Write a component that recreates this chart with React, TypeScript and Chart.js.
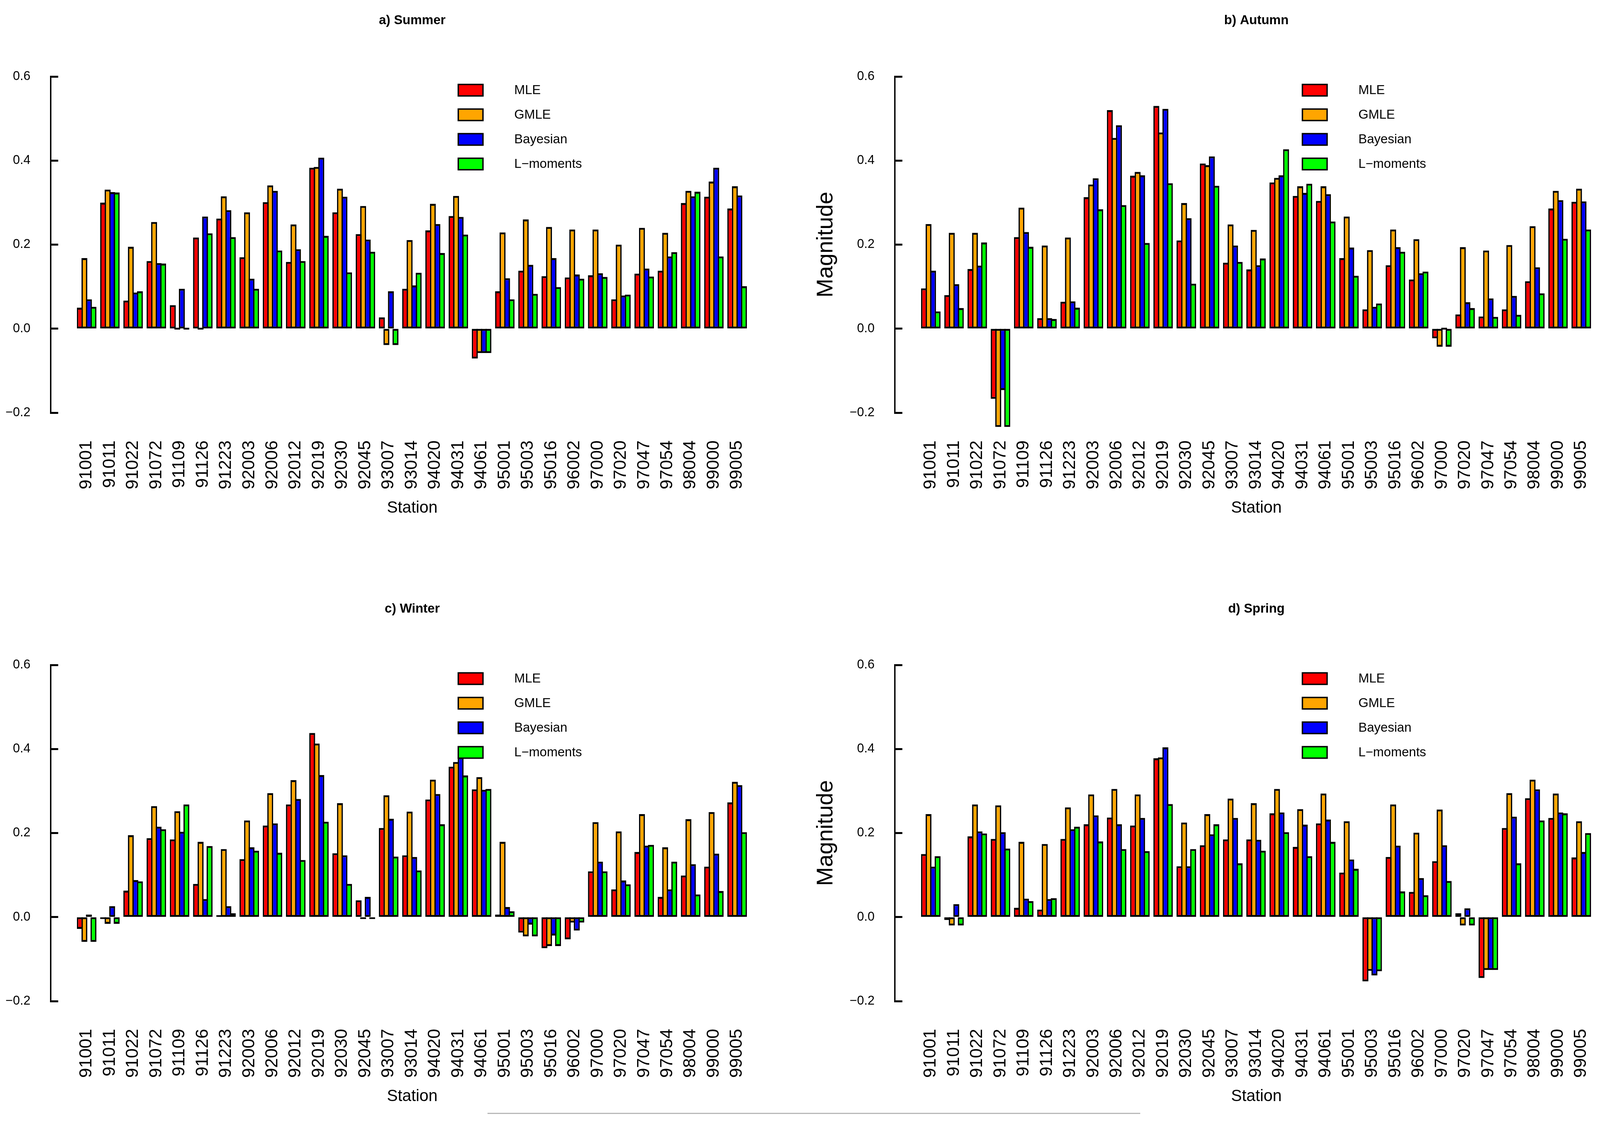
import { useEffect, useRef, useState } from 'react'
import { Chart, registerables } from 'chart.js'

Chart.register(...registerables)

const FONT = '"Liberation Sans", Arial, sans-serif'
Chart.defaults.font.family = FONT
Chart.defaults.color = '#000'

const STATIONS = [
  '91001', '91011', '91022', '91072', '91109', '91126', '91223', '92003', '92006', '92012',
  '92019', '92030', '92045', '93007', '93014', '94020', '94031', '94061', '95001', '95003',
  '95016', '96002', '97000', '97020', '97047', '97054', '98004', '99000', '99005',
]
const METHODS = ['MLE', 'GMLE', 'Bayesian', 'L\u2212moments']
const COLORS = ['#ff0000', '#ffa500', '#0000ff', '#00ff00']
const Y_TICKS = [-0.2, 0, 0.2, 0.4, 0.6]

// a) Summer
const SUMMER_MLE = [0.050, 0.300, 0.067, 0.161, 0.056, 0.217, 0.262, 0.170, 0.301, 0.159, 0.383, 0.277, 0.225, 0.027, 0.095, 0.234, 0.268, -0.071, 0.089, 0.138, 0.125, 0.122, 0.127, 0.070, 0.131, 0.138, 0.299, 0.314, 0.286]
const SUMMER_GMLE = [0.168, 0.331, 0.195, 0.254, 0, 0, 0.315, 0.277, 0.341, 0.248, 0.385, 0.333, 0.292, -0.039, 0.211, 0.297, 0.316, -0.058, 0.229, 0.260, 0.242, 0.236, 0.236, 0.200, 0.240, 0.228, 0.328, 0.350, 0.339]
const SUMMER_BAYES = [0.070, 0.325, 0.086, 0.156, 0.095, 0.267, 0.282, 0.119, 0.328, 0.189, 0.407, 0.314, 0.212, 0.089, 0.103, 0.249, 0.266, -0.058, 0.120, 0.152, 0.168, 0.129, 0.132, 0.079, 0.143, 0.172, 0.315, 0.383, 0.317]
const SUMMER_LMOM = [0.052, 0.324, 0.089, 0.155, 0, 0.227, 0.218, 0.095, 0.186, 0.161, 0.221, 0.134, 0.183, -0.039, 0.133, 0.180, 0.224, -0.058, 0.070, 0.083, 0.099, 0.119, 0.123, 0.081, 0.124, 0.182, 0.326, 0.172, 0.101]

// b) Autumn
const AUTUMN_MLE = [0.096, 0.080, 0.142, -0.167, 0.218, 0.025, 0.064, 0.313, 0.520, 0.364, 0.530, 0.210, 0.393, 0.157, 0.141, 0.348, 0.316, 0.304, 0.168, 0.046, 0.151, 0.117, -0.023, 0.034, 0.029, 0.046, 0.113, 0.286, 0.302]
const AUTUMN_GMLE = [0.249, 0.228, 0.228, -0.234, 0.288, 0.198, 0.217, 0.343, 0.454, 0.373, 0.467, 0.299, 0.389, 0.248, 0.235, 0.359, 0.339, 0.339, 0.267, 0.187, 0.236, 0.213, -0.043, 0.194, 0.186, 0.199, 0.244, 0.328, 0.333]
const AUTUMN_BAYES = [0.138, 0.106, 0.150, -0.146, 0.230, 0.025, 0.065, 0.358, 0.484, 0.365, 0.523, 0.263, 0.410, 0.198, 0.151, 0.365, 0.323, 0.320, 0.193, 0.052, 0.194, 0.132, 0, 0.063, 0.072, 0.078, 0.146, 0.306, 0.303]
const AUTUMN_LMOM = [0.041, 0.049, 0.205, -0.234, 0.195, 0.023, 0.050, 0.284, 0.294, 0.204, 0.346, 0.107, 0.340, 0.159, 0.167, 0.427, 0.345, 0.255, 0.126, 0.060, 0.183, 0.136, -0.043, 0.049, 0.028, 0.033, 0.084, 0.214, 0.236]

// c) Winter
const WINTER_MLE = [-0.028, -0.004, 0.063, 0.188, 0.185, 0.079, 0.003, 0.138, 0.218, 0.268, 0.438, 0.152, 0.040, 0.212, 0.147, 0.280, 0.358, 0.304, 0.006, -0.037, -0.074, -0.053, 0.109, 0.066, 0.155, 0.048, 0.099, 0.120, 0.273]
const WINTER_GMLE = [-0.059, -0.016, 0.195, 0.264, 0.252, 0.179, 0.162, 0.230, 0.295, 0.326, 0.413, 0.271, -0.003, 0.290, 0.251, 0.327, 0.369, 0.333, 0.179, -0.046, -0.069, -0.013, 0.226, 0.204, 0.245, 0.166, 0.233, 0.250, 0.322]
const WINTER_BAYES = [0.006, 0.026, 0.088, 0.215, 0.203, 0.043, 0.026, 0.166, 0.223, 0.281, 0.338, 0.147, 0.048, 0.234, 0.143, 0.293, 0.380, 0.303, 0.024, -0.018, -0.044, -0.032, 0.132, 0.087, 0.170, 0.066, 0.126, 0.151, 0.314]
const WINTER_LMOM = [-0.059, -0.016, 0.085, 0.209, 0.268, 0.169, 0.009, 0.158, 0.153, 0.136, 0.227, 0.079, -0.003, 0.144, 0.111, 0.221, 0.337, 0.305, 0.014, -0.046, -0.069, -0.013, 0.109, 0.078, 0.172, 0.132, 0.054, 0.062, 0.202]

// d) Spring
const SPRING_MLE = [0.150, -0.007, 0.192, 0.186, 0.022, 0.018, 0.186, 0.221, 0.237, 0.218, 0.378, 0.121, 0.171, 0.185, 0.185, 0.247, 0.167, 0.223, 0.106, -0.153, 0.143, 0.060, 0.133, 0.009, -0.145, 0.212, 0.283, 0.236, 0.142]
const SPRING_GMLE = [0.245, -0.020, 0.268, 0.266, 0.179, 0.174, 0.261, 0.292, 0.305, 0.292, 0.380, 0.225, 0.245, 0.282, 0.271, 0.305, 0.257, 0.294, 0.228, -0.128, 0.268, 0.201, 0.256, -0.020, -0.126, 0.295, 0.327, 0.294, 0.228]
const SPRING_BAYES = [0.120, 0.031, 0.204, 0.202, 0.044, 0.043, 0.209, 0.242, 0.221, 0.236, 0.404, 0.121, 0.197, 0.236, 0.184, 0.249, 0.220, 0.232, 0.137, -0.139, 0.170, 0.093, 0.171, 0.021, -0.126, 0.239, 0.304, 0.249, 0.155]
const SPRING_LMOM = [0.145, -0.020, 0.199, 0.163, 0.038, 0.045, 0.215, 0.180, 0.162, 0.157, 0.269, 0.162, 0.221, 0.128, 0.158, 0.202, 0.145, 0.179, 0.115, -0.129, 0.061, 0.052, 0.086, -0.020, -0.126, 0.128, 0.230, 0.247, 0.200]

// reference page size; everything below is laid out in these units and
// scaled to whatever window we actually get
const REF_W = 5705
const REF_H = 2871
const CW = 2909
const CH = 1400
const AXIS_X = 331
const PLOT_TOP = 196
const PLOT_BOTTOM = 1057

type Scale2 = { sx: number; sy: number }

// R-style main title, centred over the plot region
const panelTitle = {
  id: 'panelTitle',
  afterDraw(chart: Chart, _args: unknown, opts: { text?: string; size?: number; y?: number }) {
    const { ctx, chartArea } = chart
    ctx.save()
    ctx.font = `bold ${opts.size ?? 46}px ${FONT}`
    ctx.fillStyle = '#000'
    ctx.textAlign = 'center'
    ctx.textBaseline = 'middle'
    ctx.fillText(opts.text ?? '', (chartArea.left + chartArea.right) / 2, opts.y ?? 53)
    ctx.restore()
  },
}

// boxed legend inside the plot, like R's legend()
const boxLegend = {
  id: 'boxLegend',
  afterDatasetsDraw(chart: Chart, _args: unknown, opts: Scale2) {
    const { sx, sy } = opts
    const { ctx, chartArea } = chart
    ctx.save()
    ctx.font = `${46 * sx}px ${FONT}`
    ctx.textBaseline = 'middle'
    const lw = 5 * Math.min(sx, sy)
    chart.data.datasets.forEach((ds, i) => {
      const y = chartArea.top + (35 + i * 63) * sy
      const x = chartArea.left + 1451 * sx
      const w = 93 * sx
      const h = 33 * sy
      ctx.fillStyle = ds.backgroundColor as string
      ctx.fillRect(x + lw / 2, y - h / 2 + lw / 2, w - lw, h - lw)
      ctx.lineWidth = lw
      ctx.strokeStyle = '#000'
      ctx.strokeRect(x + lw / 2, y - h / 2 + lw / 2, w - lw, h - lw)
      ctx.fillStyle = '#000'
      ctx.fillText(ds.label ?? '', chartArea.left + 1653 * sx, y + 1)
    })
    ctx.restore()
  },
}

function SeasonPanel({
  title,
  series,
  showYTitle,
  axisX,
  rowTop,
  sx,
  sy,
}: {
  title: string
  series: number[][]
  showYTitle: boolean
  axisX: number
  rowTop: number
  sx: number
  sy: number
}) {
  const canvasRef = useRef<HTMLCanvasElement>(null)
  const width = Math.round(CW * sx)
  const height = Math.round(CH * sy)

  useEffect(() => {
    if (!canvasRef.current) return
    const tickFont = 45 * sx
    const stationFont = 45 * sy
    const xTitleFont = 58 * sx
    const yTitleFont = 58 * sy

    const chart = new Chart(canvasRef.current, {
      type: 'bar',
      data: {
        datasets: series.map((values, k) => ({
          label: METHODS[k],
          data: values.map((v, i) => ({ x: i, y: v })),
          backgroundColor: COLORS[k],
          borderColor: '#000',
          borderWidth: { left: 5 * sx, right: 5 * sx, top: 5 * sy, bottom: 5 * sy },
          borderSkipped: false,
          minBarLength: 5 * sy,
          categoryPercentage: 0.78,
          barPercentage: 1.31,
          clip: false,
        })),
      },
      plugins: [panelTitle, boxLegend],
      options: {
        responsive: false,
        animation: false,
        events: [],
        layout: { padding: { top: PLOT_TOP * sy, left: 0, right: 0, bottom: 0 } },
        plugins: {
          legend: { display: false },
          tooltip: { enabled: false },
          title: { display: false },
          // @ts-ignore custom plugin options
          panelTitle: { text: title, size: 46 * sx, y: 53 * sy },
          // @ts-ignore custom plugin options
          boxLegend: { sx, sy },
        },
        scales: {
          x: {
            type: 'linear',
            min: -1.55,
            max: 29.58,
            offset: false,
            afterBuildTicks: (scale) => {
              scale.ticks = STATIONS.map((_, i) => ({ value: i }))
            },
            afterFit: (scale) => {
              scale.height = (CH - PLOT_BOTTOM) * sy
              scale.paddingLeft = 0
              scale.paddingRight = 0
            },
            ticks: {
              autoSkip: false,
              minRotation: 90,
              maxRotation: 90,
              padding: 71 * sy,
              font: { size: stationFont },
              color: '#000',
              callback: (v) => STATIONS[Number(v)] ?? '',
            },
            grid: { display: false, drawTicks: false },
            border: { display: false },
            title: {
              display: true,
              text: 'Station',
              font: { size: xTitleFont },
              color: '#000',
              padding: { top: 0, bottom: (CH - 1302) * sy - (xTitleFont * 1.2) / 2 },
            },
          },
          y: {
            type: 'linear',
            min: -0.2,
            max: 0.6,
            afterBuildTicks: (scale) => {
              scale.ticks = Y_TICKS.map((value) => ({ value }))
            },
            afterFit: (scale) => {
              scale.width = AXIS_X * sx
              scale.paddingTop = 0
              scale.paddingBottom = 0
            },
            ticks: {
              padding: 99 * sx,
              font: { size: tickFont },
              color: '#000',
              callback: (v) => Number(v).toFixed(1).replace('-', '\u2212'),
            },
            grid: {
              display: true,
              drawOnChartArea: false,
              drawTicks: true,
              tickLength: -27 * sx,
              tickColor: '#000',
              tickWidth: 5 * sy,
            },
            border: { display: true, color: '#000', width: 5 * sx },
            title: {
              display: showYTitle,
              text: 'Magnitude',
              font: { size: yTitleFont },
              color: '#000',
              padding: { top: 87 * sx - (yTitleFont * 1.2) / 2, bottom: 0 },
            },
          },
        },
      },
    })
    return () => chart.destroy()
  }, [title, series, showYTitle, sx, sy])

  return (
    <div
      style={{
        position: 'absolute',
        left: (axisX - AXIS_X) * sx,
        top: rowTop * sy,
        width,
        height,
      }}
    >
      <canvas ref={canvasRef} width={width} height={height} style={{ width, height, display: 'block' }} />
    </div>
  )
}

export default function App() {
  const [size] = useState(() => ({
    w: window.innerWidth || REF_W,
    h: window.innerHeight || REF_H,
  }))
  const sx = size.w / REF_W
  const sy = size.h / REF_H

  return (
    <div
      style={{
        position: 'absolute',
        left: 0,
        top: 0,
        width: size.w,
        height: size.h,
        overflow: 'hidden',
        background: '#fff',
      }}
    >
      <SeasonPanel
        title="a) Summer"
        series={[SUMMER_MLE, SUMMER_GMLE, SUMMER_BAYES, SUMMER_LMOM]}
        showYTitle={false}
        axisX={181}
        rowTop={0}
        sx={sx}
        sy={sy}
      />
      <SeasonPanel
        title="b) Autumn"
        series={[AUTUMN_MLE, AUTUMN_GMLE, AUTUMN_BAYES, AUTUMN_LMOM]}
        showYTitle={true}
        axisX={3191}
        rowTop={0}
        sx={sx}
        sy={sy}
      />
      <SeasonPanel
        title="c) Winter"
        series={[WINTER_MLE, WINTER_GMLE, WINTER_BAYES, WINTER_LMOM]}
        showYTitle={false}
        axisX={181}
        rowTop={1507}
        sx={sx}
        sy={sy}
      />
      <SeasonPanel
        title="d) Spring"
        series={[SPRING_MLE, SPRING_GMLE, SPRING_BAYES, SPRING_LMOM]}
        showYTitle={true}
        axisX={3191}
        rowTop={1507}
        sx={sx}
        sy={sy}
      />
      <div
        style={{
          position: 'absolute',
          left: 1738 * sx,
          top: 2850 * sy,
          width: 2328 * sx,
          height: 3,
          background: '#b8b8b8',
        }}
      />
    </div>
  )
}
